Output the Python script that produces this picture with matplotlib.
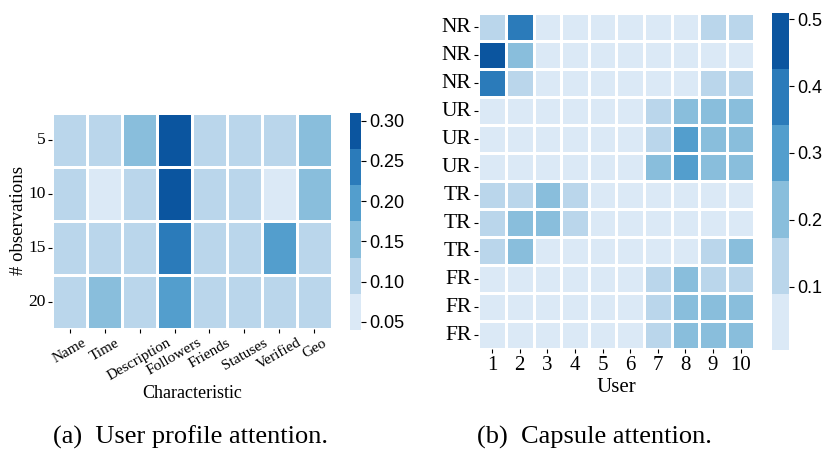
import numpy as np
import matplotlib
matplotlib.use("Agg")
import matplotlib.pyplot as plt
import seaborn as sns

# (a) attention over user-profile characteristics
profile_features = ["Name", "Time", "Description", "Followers", "Friends",
                    "Statuses", "Verified", "Geo"]
observations = ["5", "10", "15", "20"]
profile_obs5 = [0.105, 0.110, 0.155, 0.295, 0.105, 0.105, 0.105, 0.150]
profile_obs10 = [0.100, 0.040, 0.110, 0.310, 0.105, 0.105, 0.055, 0.155]
profile_obs15 = [0.105, 0.105, 0.105, 0.245, 0.105, 0.105, 0.205, 0.110]
profile_obs20 = [0.105, 0.150, 0.105, 0.200, 0.105, 0.105, 0.105, 0.110]

# (b) capsule attention over users
capsule_labels = ["NR", "NR", "NR", "UR", "UR", "UR",
                  "TR", "TR", "TR", "FR", "FR", "FR"]
users = ["1", "2", "3", "4", "5", "6", "7", "8", "9", "10"]
nr_1 = [0.12, 0.38, 0.04, 0.04, 0.04, 0.04, 0.04, 0.04, 0.12, 0.12]
nr_2 = [0.51, 0.20, 0.03, 0.03, 0.03, 0.03, 0.03, 0.03, 0.02, 0.005]
nr_3 = [0.36, 0.14, 0.04, 0.04, 0.04, 0.04, 0.04, 0.04, 0.13, 0.13]
ur_1 = [0.03, 0.03, 0.03, 0.03, 0.03, 0.03, 0.14, 0.21, 0.19, 0.19]
ur_2 = [0.03, 0.03, 0.03, 0.03, 0.03, 0.03, 0.14, 0.30, 0.20, 0.20]
ur_3 = [0.03, 0.03, 0.03, 0.03, 0.03, 0.03, 0.19, 0.29, 0.20, 0.20]
tr_1 = [0.13, 0.13, 0.19, 0.12, 0.05, 0.05, 0.05, 0.05, 0.05, 0.05]
tr_2 = [0.12, 0.20, 0.20, 0.12, 0.05, 0.05, 0.05, 0.05, 0.05, 0.05]
tr_3 = [0.13, 0.20, 0.05, 0.05, 0.05, 0.05, 0.05, 0.05, 0.12, 0.18]
fr_1 = [0.04, 0.04, 0.04, 0.04, 0.04, 0.04, 0.13, 0.20, 0.14, 0.13]
fr_2 = [0.04, 0.04, 0.04, 0.04, 0.04, 0.04, 0.13, 0.21, 0.19, 0.20]
fr_3 = [0.04, 0.04, 0.04, 0.04, 0.04, 0.04, 0.13, 0.21, 0.20, 0.20]

profile = np.array([profile_obs5, profile_obs10, profile_obs15, profile_obs20])
capsule = np.array([nr_1, nr_2, nr_3, ur_1, ur_2, ur_3,
                    tr_1, tr_2, tr_3, fr_1, fr_2, fr_3])

SERIF = ["Liberation Serif", "DejaVu Serif"]
SANS = ["Liberation Sans", "DejaVu Sans"]
palette = sns.color_palette("Blues")

fig = plt.figure(figsize=(8.3, 4.53), dpi=100)

ax_a = fig.add_axes([0.0630, 0.2731, 0.3366, 0.4781])
cax_a = fig.add_axes([0.4217, 0.2715, 0.0129, 0.4797])
ax_b = fig.add_axes([0.5763, 0.2289, 0.3325, 0.7417])
cax_b = fig.add_axes([0.9298, 0.2274, 0.0208, 0.7446])

sns.heatmap(profile, ax=ax_a, cbar_ax=cax_a, cmap=palette,
            linewidths=0.8, linecolor="white",
            xticklabels=profile_features, yticklabels=observations)
sns.heatmap(capsule, ax=ax_b, cbar_ax=cax_b, cmap=palette,
            linewidths=0.8, linecolor="white",
            xticklabels=users, yticklabels=capsule_labels)

# panel (a) text
ax_a.set_xticklabels(profile_features, rotation=30, ha="center",
                     family=SERIF, fontsize=11)
ax_a.set_yticklabels(observations, rotation=0, family=SERIF, fontsize=12.5)
ax_a.set_xlabel("Characteristic", family=SERIF, fontsize=13, labelpad=1)
ax_a.set_ylabel("# observations", family=SERIF, fontsize=13.5, labelpad=1)
ax_a.tick_params(length=3, width=0.8, pad=2)

# panel (b) text
ax_b.set_xticklabels(users, rotation=0, family=SERIF, fontsize=15)
ax_b.set_yticklabels(capsule_labels, rotation=0, family=SERIF, fontsize=15.5)
ax_b.set_xlabel("User", family=SERIF, fontsize=15, labelpad=2)
ax_b.tick_params(length=3, width=0.8, pad=2)

for cax in (cax_a, cax_b):
    cax.tick_params(length=3.5, width=0.8, pad=2.5, labelsize=13)
    for lbl in cax.get_yticklabels():
        lbl.set_family(SANS)

fig.text(0.229, 0.035, "(a)  User profile attention.", family=SERIF,
         fontsize=19, ha="center", va="center")
fig.text(0.716, 0.035, "(b)  Capsule attention.", family=SERIF,
         fontsize=19, ha="center", va="center")

fig.savefig("out.png", dpi=100)
